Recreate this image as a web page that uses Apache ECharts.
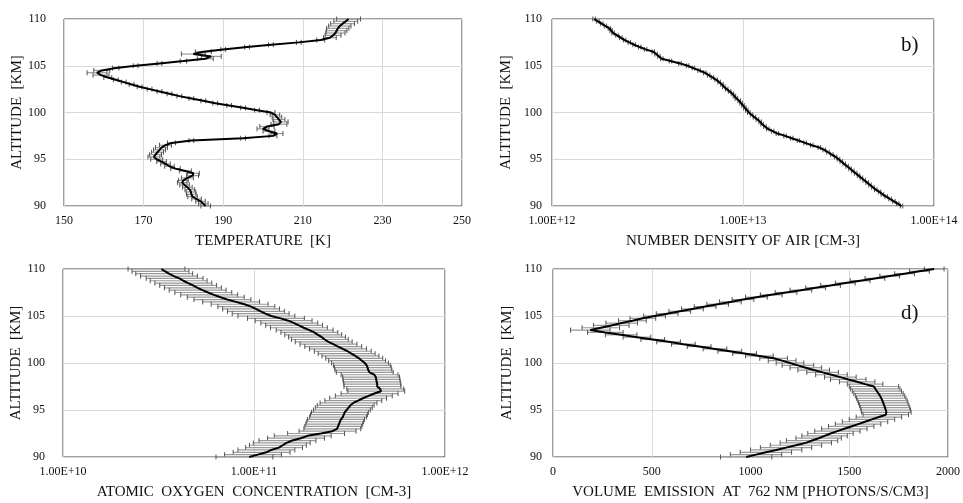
<!DOCTYPE html>
<html>
<head>
<meta charset="utf-8">
<script src="https://cdn.jsdelivr.net/npm/echarts@6/dist/echarts.min.js"></script>
<style>
  html, body { margin: 0; padding: 0; background: #fff; }
  #chart { width: 963px; height: 503px; }
</style>
</head>
<body>
<div id="chart"></div>
<script>
// altitude grid (km), top to bottom
const altitude = [
  110, 109.75, 109.5, 109.25, 109, 108.75, 108.5, 108.25, 108, 107.75,
  107.5, 107.25, 107, 106.75, 106.5, 106.25, 106, 105.75, 105.5, 105.25,
  105, 104.75, 104.5, 104.25, 104, 103.75, 103.5, 103.25, 103, 102.75,
  102.5, 102.25, 102, 101.75, 101.5, 101.25, 101, 100.75, 100.5, 100.25,
  100, 99.75, 99.5, 99.25, 99, 98.75, 98.5, 98.25, 98, 97.75,
  97.5, 97.25, 97, 96.75, 96.5, 96.25, 96, 95.75, 95.5, 95.25,
  95, 94.75, 94.5, 94.25, 94, 93.75, 93.5, 93.25, 93, 92.75,
  92.5, 92.25, 92, 91.75, 91.5, 91.25, 91, 90.75, 90.5, 90.25,
  90
]

// a) temperature [K]
const temperature = [
  221.5, 220.8, 220.0, 219.3, 218.8, 218.5, 218.2, 217.6, 216.8, 214.5,
  209.0, 202.0, 196.0, 190.0, 185.0, 182.5, 187.0, 185.5, 180.0, 174.0,
  168.0, 163.0, 159.5, 158.3, 159.3, 161.0, 163.0, 165.0, 167.0, 169.0,
  171.5, 174.0, 176.5, 179.0, 182.0, 185.0, 188.0, 191.5, 195.0, 198.5,
  202.0, 203.0, 203.5, 204.0, 204.5, 204.0, 201.0, 200.0, 201.5, 203.5,
  202.5, 195.0, 182.0, 177.0, 175.5, 174.5, 174.0, 173.5, 173.0, 172.6,
  173.3, 174.5, 175.5, 176.5, 178.0, 180.5, 182.5, 182.3, 181.0, 180.0,
  179.7, 180.3, 181.0, 181.6, 181.9, 182.0, 182.3, 183.3, 184.3, 185.0,
  185.6
]
const temperatureErr = [
  3.0, 3.0, 3.0, 2.8, 2.8, 2.6, 2.4, 2.0, 1.6, 1.0,
  0.6, 0.6, 0.6, 0.6, 2.0, 3.0, 2.5, 2.0, 0.8, 0.6,
  0.6, 0.8, 2.0, 2.5, 2.0, 1.0, 0.6, 0.6, 0.6, 0.6,
  0.6, 0.6, 0.6, 0.6, 0.6, 0.6, 0.6, 0.6, 0.6, 0.6,
  1.0, 1.2, 1.2, 1.5, 1.8, 2.0, 1.8, 1.5, 1.5, 1.5,
  1.0, 0.6, 0.6, 1.0, 1.5, 1.5, 1.5, 1.5, 1.5, 1.5,
  1.5, 1.2, 1.2, 1.2, 1.2, 1.5, 1.5, 1.5, 1.5, 1.2,
  1.2, 1.2, 1.2, 1.2, 1.2, 1.2, 1.2, 1.2, 1.2, 1.2,
  1.2
]

// b) number density of air [cm-3]
const airDensity = [
  1.66e12, 1.74e12, 1.82e12, 1.905e12, 2.00e12, 2.04e12, 2.09e12, 2.19e12, 2.29e12, 2.40e12,
  2.54e12, 2.69e12, 2.88e12, 3.09e12, 3.39e12, 3.51e12, 3.63e12, 3.76e12, 4.17e12, 4.68e12,
  5.13e12, 5.50e12, 5.89e12, 6.31e12, 6.61e12, 6.92e12, 7.24e12, 7.50e12, 7.76e12, 7.94e12,
  8.22e12, 8.51e12, 8.81e12, 9.02e12, 9.23e12, 9.55e12, 9.77e12, 1.00e13, 1.023e13, 1.047e13,
  1.072e13, 1.109e13, 1.148e13, 1.189e13, 1.230e13, 1.259e13, 1.303e13, 1.349e13, 1.429e13, 1.514e13,
  1.660e13, 1.799e13, 1.950e13, 2.113e13, 2.291e13, 2.512e13, 2.661e13, 2.786e13, 2.917e13, 3.055e13,
  3.162e13, 3.273e13, 3.388e13, 3.508e13, 3.631e13, 3.758e13, 3.890e13, 4.027e13, 4.169e13, 4.315e13,
  4.467e13, 4.624e13, 4.786e13, 4.955e13, 5.188e13, 5.370e13, 5.623e13, 5.888e13, 6.166e13, 6.457e13,
  6.761e13
]
const airRelErr = 0.015

// c) atomic oxygen concentration [cm-3]
const oxygen = [
  3.27e10, 3.43e10, 3.59e10, 3.80e10, 4.07e10, 4.27e10, 4.52e10, 4.79e10, 5.07e10, 5.37e10,
  5.75e10, 6.17e10, 6.68e10, 7.24e10, 8.04e10, 8.91e10, 9.66e10, 1.023e11, 1.084e11, 1.148e11,
  1.230e11, 1.380e11, 1.514e11, 1.622e11, 1.718e11, 1.820e11, 1.950e11, 2.065e11, 2.163e11, 2.265e11,
  2.344e11, 2.455e11, 2.600e11, 2.754e11, 2.917e11, 3.090e11, 3.236e11, 3.388e11, 3.548e11, 3.673e11,
  3.802e11, 3.890e11, 3.936e11, 3.963e11, 4.027e11, 4.266e11, 4.345e11, 4.365e11, 4.385e11, 4.416e11,
  4.416e11, 4.571e11, 4.624e11, 4.266e11, 3.981e11, 3.715e11, 3.508e11, 3.311e11, 3.199e11, 3.126e11,
  3.055e11, 2.985e11, 2.951e11, 2.917e11, 2.851e11, 2.818e11, 2.786e11, 2.754e11, 2.723e11, 2.570e11,
  2.239e11, 1.905e11, 1.758e11, 1.585e11, 1.479e11, 1.413e11, 1.349e11, 1.230e11, 1.161e11, 1.047e11,
  9.44e10
]
const oxRelErr = 0.33

// d) volume emission at 762 nm [photons/s/cm3]
const emission = [
  1930, 1855, 1780, 1705, 1630, 1555, 1480, 1405, 1330, 1255,
  1180, 1105, 1030, 962, 898, 834, 770, 706, 642, 578,
  514, 455, 402, 348, 295, 242, 189, 265, 345, 425,
  505, 585, 660, 740, 820, 895, 970, 1045, 1117, 1160,
  1200, 1240, 1280, 1320, 1365, 1410, 1455, 1495, 1540, 1580,
  1625, 1632, 1640, 1648, 1656, 1662, 1668, 1672, 1677, 1681,
  1685, 1688, 1685, 1650, 1615, 1580, 1545, 1510, 1475, 1440,
  1405, 1375, 1345, 1312, 1280, 1230, 1180, 1130, 1078, 1028,
  978
]
const emissionErr = [
  50, 50, 50, 50, 50, 50, 50, 50, 50, 55,
  55, 55, 55, 55, 55, 55, 55, 55, 55, 55,
  55, 65, 70, 80, 90, 95, 100, 90, 80, 70,
  60, 60, 60, 60, 60, 60, 60, 70, 70, 70,
  70, 80, 80, 80, 80, 80, 80, 90, 90, 90,
  125, 125, 125, 125, 125, 125, 125, 125, 125, 125,
  125, 125, 115, 115, 115, 115, 115, 115, 115, 115,
  115, 115, 115, 130, 130, 130, 130, 130, 130, 130,
  130
]

const chart = echarts.init(document.getElementById('chart'))
const font = 'Liberation Serif'
const ink = '#111'

function errorBars(params, api) {
  const h = api.value(2)
  const a = api.coord([api.value(0), h])
  const b = api.coord([api.value(1), h])
  const cap = 2.5
  return {
    type: 'group',
    children: [
      { type: 'line', shape: { x1: a[0], y1: a[1], x2: b[0], y2: b[1] }, style: { stroke: '#999', lineWidth: 1.2 } },
      { type: 'line', shape: { x1: a[0], y1: a[1] - cap, x2: a[0], y2: a[1] + cap }, style: { stroke: '#555', lineWidth: 1 } },
      { type: 'line', shape: { x1: b[0], y1: b[1] - cap, x2: b[0], y2: b[1] + cap }, style: { stroke: '#555', lineWidth: 1 } }
    ]
  }
}

const sci = v => v.toExponential(2).toUpperCase()
const plain = v => String(v)

const xAxisBase = (idx, extra, fmt) => Object.assign({
  gridIndex: idx,
  nameLocation: 'middle',
  nameGap: 28,
  nameTextStyle: { fontFamily: font, fontSize: 15, color: ink },
  axisLine: { show: false },
  axisTick: { show: false },
  axisLabel: { fontFamily: font, fontSize: 12, color: ink, margin: 9, formatter: fmt },
  splitLine: { show: true, lineStyle: { color: '#d9d9d9' } }
}, extra)

const yAxisBase = (idx, margin) => ({
  gridIndex: idx,
  type: 'value',
  min: 90,
  max: 110,
  interval: 5,
  name: 'ALTITUDE  [KM]',
  nameLocation: 'middle',
  nameGap: 38,
  nameTextStyle: { fontFamily: font, fontSize: 15, color: ink },
  axisLine: { show: false },
  axisTick: { show: false },
  axisLabel: { fontFamily: font, fontSize: 12, color: ink, margin: margin },
  splitLine: { show: true, lineStyle: { color: '#d9d9d9' } }
})

const panels = [
  { x: temperature, lo: temperature.map((v, i) => v - temperatureErr[i]), hi: temperature.map((v, i) => v + temperatureErr[i]) },
  { x: airDensity, lo: airDensity.map(v => v * (1 - airRelErr)), hi: airDensity.map(v => v * (1 + airRelErr)) },
  { x: oxygen, lo: oxygen.map(v => v * (1 - oxRelErr)), hi: oxygen.map(v => v * (1 + oxRelErr)) },
  { x: emission, lo: emission.map((v, i) => v - emissionErr[i]), hi: emission.map((v, i) => v + emissionErr[i]) }
]

const series = []
panels.forEach((p, k) => {
  series.push({
    type: 'custom',
    xAxisIndex: k,
    yAxisIndex: k,
    renderItem: errorBars,
    encode: { x: [0, 1], y: 2 },
    data: altitude.map((h, i) => [p.lo[i], p.hi[i], h]),
    z: 2
  })
  series.push({
    type: 'line',
    xAxisIndex: k,
    yAxisIndex: k,
    showSymbol: false,
    lineStyle: { color: '#000', width: 2 },
    data: altitude.map((h, i) => [p.x[i], h]),
    z: 3
  })
})

const box = { show: true, borderColor: '#404040', borderWidth: 1, backgroundColor: 'transparent' }

chart.setOption({
  animation: false,
  backgroundColor: '#fff',
  grid: [
    Object.assign({ left: 64, top: 19, width: 398, height: 187 }, box),
    Object.assign({ left: 552, top: 19, width: 382, height: 187 }, box),
    Object.assign({ left: 63, top: 269, width: 382, height: 188 }, box),
    Object.assign({ left: 553, top: 269, width: 395, height: 188 }, box)
  ],
  xAxis: [
    xAxisBase(0, { type: 'value', min: 150, max: 250, interval: 20, name: 'TEMPERATURE  [K]' }, plain),
    xAxisBase(1, { type: 'log', min: 1e12, max: 1e14, name: 'NUMBER DENSITY OF AIR [CM-3]' }, sci),
    xAxisBase(2, { type: 'log', min: 1e10, max: 1e12, name: 'ATOMIC  OXYGEN  CONCENTRATION  [CM-3]' }, sci),
    xAxisBase(3, { type: 'value', min: 0, max: 2000, interval: 500, name: 'VOLUME  EMISSION  AT  762 NM [PHOTONS/S/CM3]' }, plain)
  ],
  yAxis: [yAxisBase(0, 18), yAxisBase(1, 10), yAxisBase(2, 18), yAxisBase(3, 11)],
  title: [
    { text: 'b)', left: 896, top: 30, textStyle: { fontFamily: font, fontSize: 21, fontWeight: 'normal', color: ink } },
    { text: 'd)', left: 896, top: 298, textStyle: { fontFamily: font, fontSize: 21, fontWeight: 'normal', color: ink } }
  ],
  series: series
})
</script>
</body>
</html>
